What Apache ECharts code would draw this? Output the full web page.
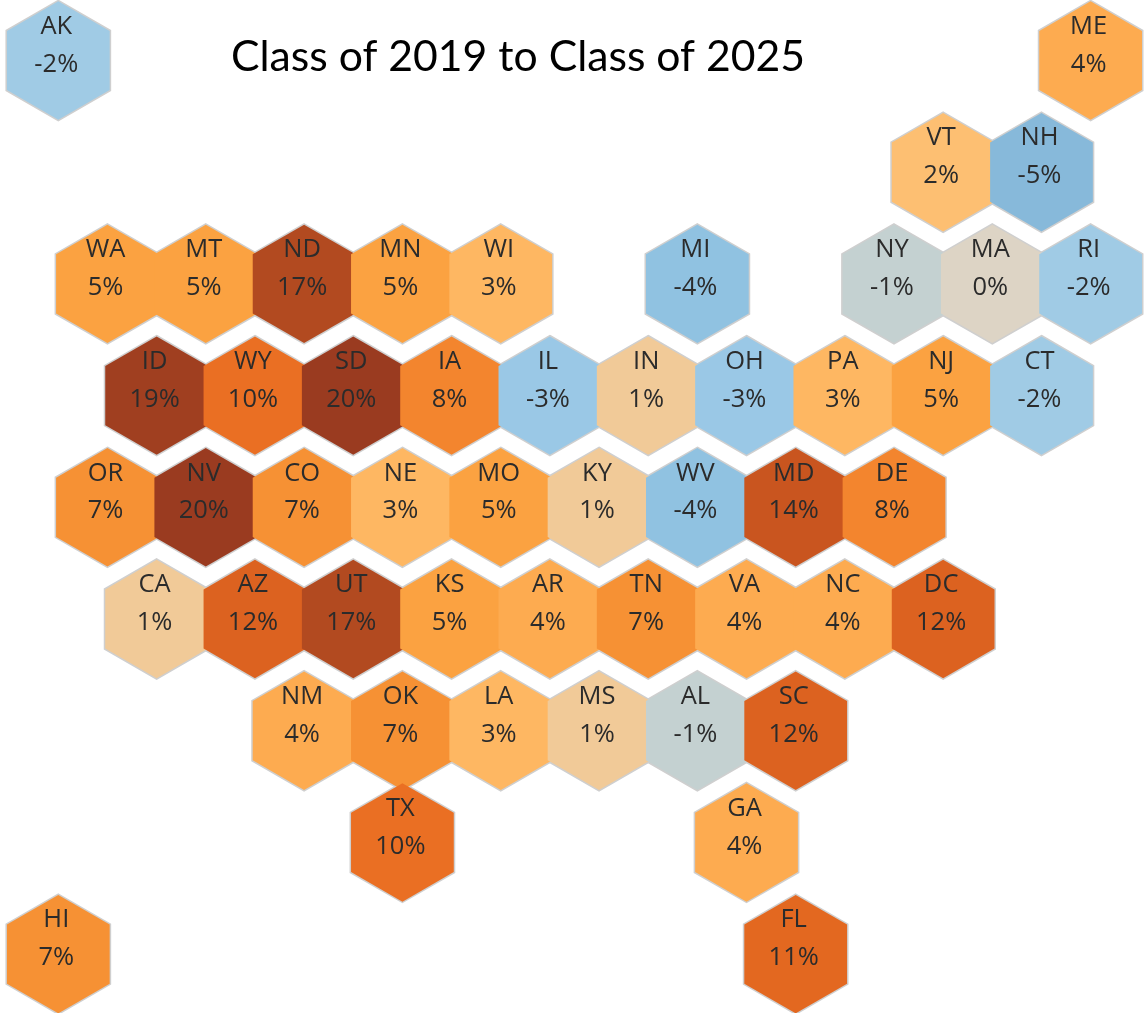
<!DOCTYPE html>
<html>
<head>
<meta charset="utf-8">
<title>Class of 2019 to Class of 2025</title>
<script src="https://cdn.jsdelivr.net/npm/echarts@6/dist/echarts.min.js"></script>
<style>
  html, body { margin: 0; padding: 0; background: #fff; }
  #main { width: 1145px; height: 1013px; }
</style>
</head>
<body>
<div id="main"></div>
<script>
// 州名、变化百分比，以及六边形网格的行列号
var states = ['AK','ME','VT','NH','WA','MT','ND','MN','WI','MI','NY','MA','RI',
  'ID','WY','SD','IA','IL','IN','OH','PA','NJ','CT',
  'OR','NV','CO','NE','MO','KY','WV','MD','DE',
  'CA','AZ','UT','KS','AR','TN','VA','NC','DC',
  'NM','OK','LA','MS','AL','SC','TX','GA','HI','FL'];
var changes = [-2,4,2,-5,5,5,17,5,3,-4,-1,0,-2,
  19,10,20,8,-3,1,-3,3,5,-2,
  7,20,7,3,5,1,-4,14,8,
  1,12,17,5,4,7,4,4,12,
  4,7,3,1,-1,12,10,4,7,11];
var columns = [0,21,18,20,1,3,5,7,9,13,17,19,21,
  2,4,6,8,10,12,14,16,18,20,
  1,3,5,7,9,11,13,15,17,
  2,4,6,8,10,12,14,16,18,
  5,7,9,11,13,15,7,14,0,15];
var rows = [0,0,1,1,2,2,2,2,2,2,2,2,2,
  3,3,3,3,3,3,3,3,3,3,
  4,4,4,4,4,4,4,4,4,
  5,5,5,5,5,5,5,5,5,
  6,6,6,6,6,6,7,7,8,8];

// 从 -5% 到 20% 每个整数一档颜色
var colorScale = ['#87b9da','#90c2e1','#9ac8e6','#a0cbe5','#c4d1d1','#ddd4c5','#f1ca98',
  '#fdbf72','#feb762','#fdab50','#fba241','#f8983a','#f69134','#f3852e','#ee7a28',
  '#ea6f23','#e36820','#dc6220','#d25a1f','#c9551f','#c04f20','#b94c20','#b24a20',
  '#a94421','#a03f20','#9a3b20'];

var cells = states.map(function (name, i) {
  return [columns[i], rows[i], changes[i], name];
});

// 根据网格尺寸算出六边形的六个顶点
function hexPoints(api) {
  var c = api.coord([api.value(0), api.value(1)]);
  var unit = api.size([1, 1]);
  var w = unit[0] * 1.045;
  var h = unit[1] * 0.53;
  return [
    [c[0], c[1] - h],
    [c[0] + w, c[1] - h / 2],
    [c[0] + w, c[1] + h / 2],
    [c[0], c[1] + h],
    [c[0] - w, c[1] + h / 2],
    [c[0] - w, c[1] - h / 2]
  ];
}

// 底层：只画灰色描边
function renderOutline(params, api) {
  return {
    type: 'polygon',
    shape: { points: hexPoints(api) },
    style: { fill: '#cfcfcf', stroke: '#cfcfcf', lineWidth: 3 }
  };
}

// 上层：填充色和两行文字
function renderCell(params, api) {
  var c = api.coord([api.value(0), api.value(1)]);
  var unit = api.size([1, 1]);
  var textStyle = { fill: '#2b2b2b', fontSize: 25.5, fontFamily: '"Open Sans"', align: 'center', verticalAlign: 'middle' };
  return {
    type: 'group',
    children: [
      {
        type: 'polygon',
        shape: { points: hexPoints(api) },
        style: { fill: api.visual('color') }
      },
      {
        type: 'text',
        style: Object.assign({ text: api.value(3), x: c[0] - 2, y: c[1] - unit[1] * 0.305 }, textStyle)
      },
      {
        type: 'text',
        style: Object.assign({ text: api.value(2) + '%', x: c[0] - 2, y: c[1] + unit[1] * 0.035 }, textStyle)
      }
    ]
  };
}

var myChart = echarts.init(document.getElementById('main'));
myChart.setOption({
  animation: false,
  title: {
    text: 'Class of 2019 to Class of 2025',
    left: 513,
    top: 31,
    textAlign: 'center',
    textStyle: { color: '#000', fontFamily: 'Lato', fontWeight: 'normal', fontSize: 42.7 }
  },
  grid: { left: 0, right: 0, top: 0, bottom: 0 },
  xAxis: { type: 'value', min: -1.186, max: 22.106, show: false },
  yAxis: { type: 'value', min: -0.5416, max: 8.527, inverse: true, show: false },
  visualMap: {
    show: false,
    type: 'continuous',
    min: -5,
    max: 20,
    dimension: 2,
    seriesIndex: 1,
    inRange: { color: colorScale }
  },
  series: [
    { type: 'custom', data: cells, renderItem: renderOutline, clip: false, silent: true },
    { type: 'custom', data: cells, renderItem: renderCell, clip: false, silent: true }
  ]
});
</script>
</body>
</html>
